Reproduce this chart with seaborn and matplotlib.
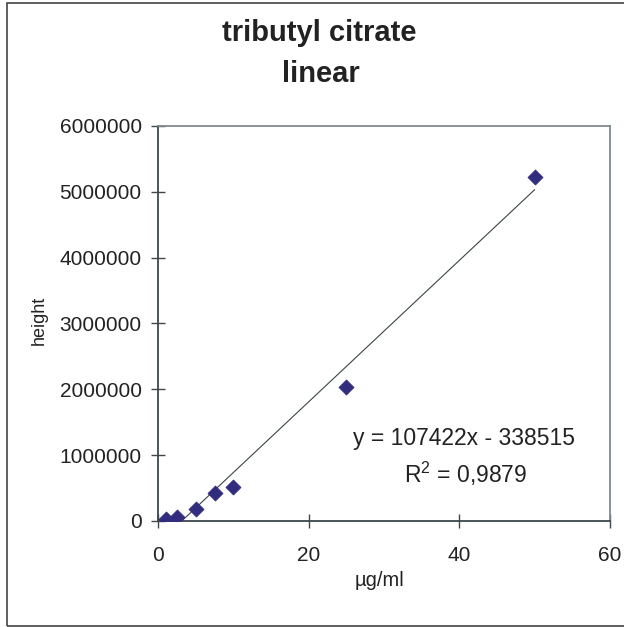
import numpy as np
import pandas as pd
import matplotlib
matplotlib.use('Agg')
import matplotlib.pyplot as plt
import seaborn as sns

# calibration data
conc = [1, 2.5, 5, 7.5, 10, 25, 50]
height = [30000, 60000, 182000, 425000, 517000, 2036000, 5228000]
x_ticks = [0, 20, 40, 60]
y_ticks = [0, 1000000, 2000000, 3000000, 4000000, 5000000, 6000000]
slope = 107422
intercept = -338515
eq_text = 'y = 107422x - 338515'
r2_text = 'R$^2$ = 0,9879'

df = pd.DataFrame({'conc': conc, 'height': height})

sns.set_theme(style='white')
plt.rcParams['font.family'] = ['Liberation Sans', 'DejaVu Sans']
plt.rcParams['mathtext.fontset'] = 'custom'
plt.rcParams['mathtext.rm'] = 'Liberation Sans'
plt.rcParams['mathtext.it'] = 'Liberation Sans'
plt.rcParams['mathtext.default'] = 'rm'

txt = '#222222'

fig = plt.figure(figsize=(6.24, 6.27), dpi=100)
ax = fig.add_axes([0.2532, 0.1691, 0.7244, 0.630])

# trendline, clipped at the x axis like Excel does
x0 = -intercept / slope
xs = np.array([x0, max(conc)])
ax.plot(xs, slope * xs + intercept, color='#3a4448', lw=0.8, zorder=1)

sns.scatterplot(data=df, x='conc', y='height', marker='D', s=58,
                color='#322c7e', edgecolor='#322c7e', ax=ax, zorder=3)

ax.set_xlim(0, 60)
ax.set_ylim(0, 6000000)
ax.set_xticks(x_ticks)
ax.set_yticks(y_ticks)
ax.set_yticklabels([str(v) for v in y_ticks])
ax.tick_params(axis='both', direction='inout', length=9.5, width=1,
               labelsize=15, colors='#3d474c', labelcolor=txt,
               left=True, bottom=True)
ax.tick_params(axis='x', pad=13)
ax.tick_params(axis='y', pad=7)

for side in ['left', 'bottom']:
    ax.spines[side].set_color('#3d474c')
    ax.spines[side].set_linewidth(1.3)
for side in ['top', 'right']:
    ax.spines[side].set_color('#7f8a90')
    ax.spines[side].set_linewidth(1.3)

ax.set_xlabel('µg/ml', fontsize=14.5, color=txt)
ax.set_ylabel('height', fontsize=13, color=txt)
ax.xaxis.set_label_coords(0.489, -0.127)
ax.yaxis.set_label_coords(-0.243, 0.509)

ax.text(40.6, 1155000, eq_text, ha='center', va='baseline',
        fontsize=16.5, color=txt)
ax.text(40.8, 577000, r2_text, ha='center', va='baseline',
        fontsize=16.5, color=txt)

fig.text(0.512, 1 - 41 / 627, 'tributyl citrate', ha='center', va='baseline',
         fontsize=21, fontweight='bold', color=txt)
fig.text(0.515, 1 - 82 / 627, 'linear', ha='center', va='baseline',
         fontsize=21, fontweight='bold', color=txt)

# outer chart border
fig.patches.append(plt.Rectangle((0.011, 0.0016), 1.0, 0.9936,
                                 transform=fig.transFigure, fill=False,
                                 edgecolor='#444444', lw=1.2))

fig.savefig('out.png', dpi=100)
